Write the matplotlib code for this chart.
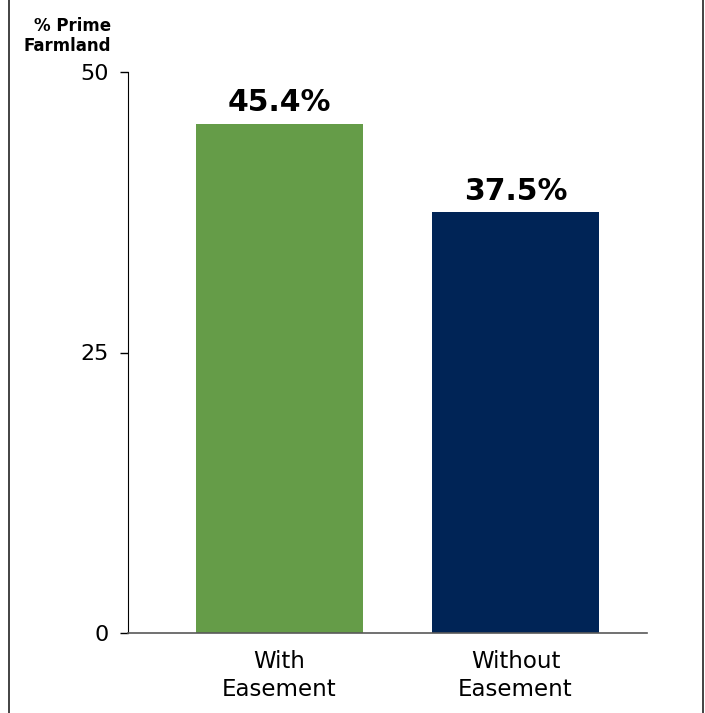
import matplotlib.pyplot as plt
from matplotlib.lines import Line2D

# share of land that is prime farmland, by easement status
categories = ['With\nEasement', 'Without\nEasement']
prime_pct = [45.4, 37.5]
bar_colors = ['#659c48', '#002456']
y_ticks = [0, 25, 50]

fig = plt.figure(figsize=(7.05, 7.13), dpi=100)
ax = fig.add_axes([128 / 705, 1 - 633 / 713, 519 / 705, 561 / 713])

positions = list(range(len(categories)))
bars = ax.bar(positions, prime_pct, width=0.708, color=bar_colors, zorder=2)

for pos, val in zip(positions, prime_pct):
    ax.text(pos, val + 0.55, f'{val:.1f}%', ha='center', va='bottom',
            fontsize=21.5, fontweight='bold', color='black')

ax.set_xlim(-0.642, 1.557)
ax.set_ylim(0, 50)
ax.set_yticks(y_ticks)
ax.set_yticklabels([str(t) for t in y_ticks], fontsize=16)
ax.set_xticks(positions)
ax.set_xticklabels(categories, fontsize=16.5, linespacing=1.3)
ax.tick_params(axis='x', length=0, pad=12)
ax.tick_params(axis='y', length=6, width=1, pad=8)

ax.spines['top'].set_visible(False)
ax.spines['right'].set_visible(False)
ax.spines['left'].set_color('black')
ax.spines['bottom'].set_color('#595959')
ax.spines['bottom'].set_linewidth(1.2)

fig.text(111 / 705, 1 - 17 / 713, '% Prime\nFarmland', ha='right', va='top',
         fontsize=12, fontweight='bold', multialignment='right', linespacing=1.15)

# side rules framing the chart
for x in (8.5 / 705, 703 / 705):
    fig.add_artist(Line2D([x, x], [0, 1], transform=fig.transFigure,
                          color='#222222', linewidth=1.2))

fig.savefig('out.png', dpi=100)
